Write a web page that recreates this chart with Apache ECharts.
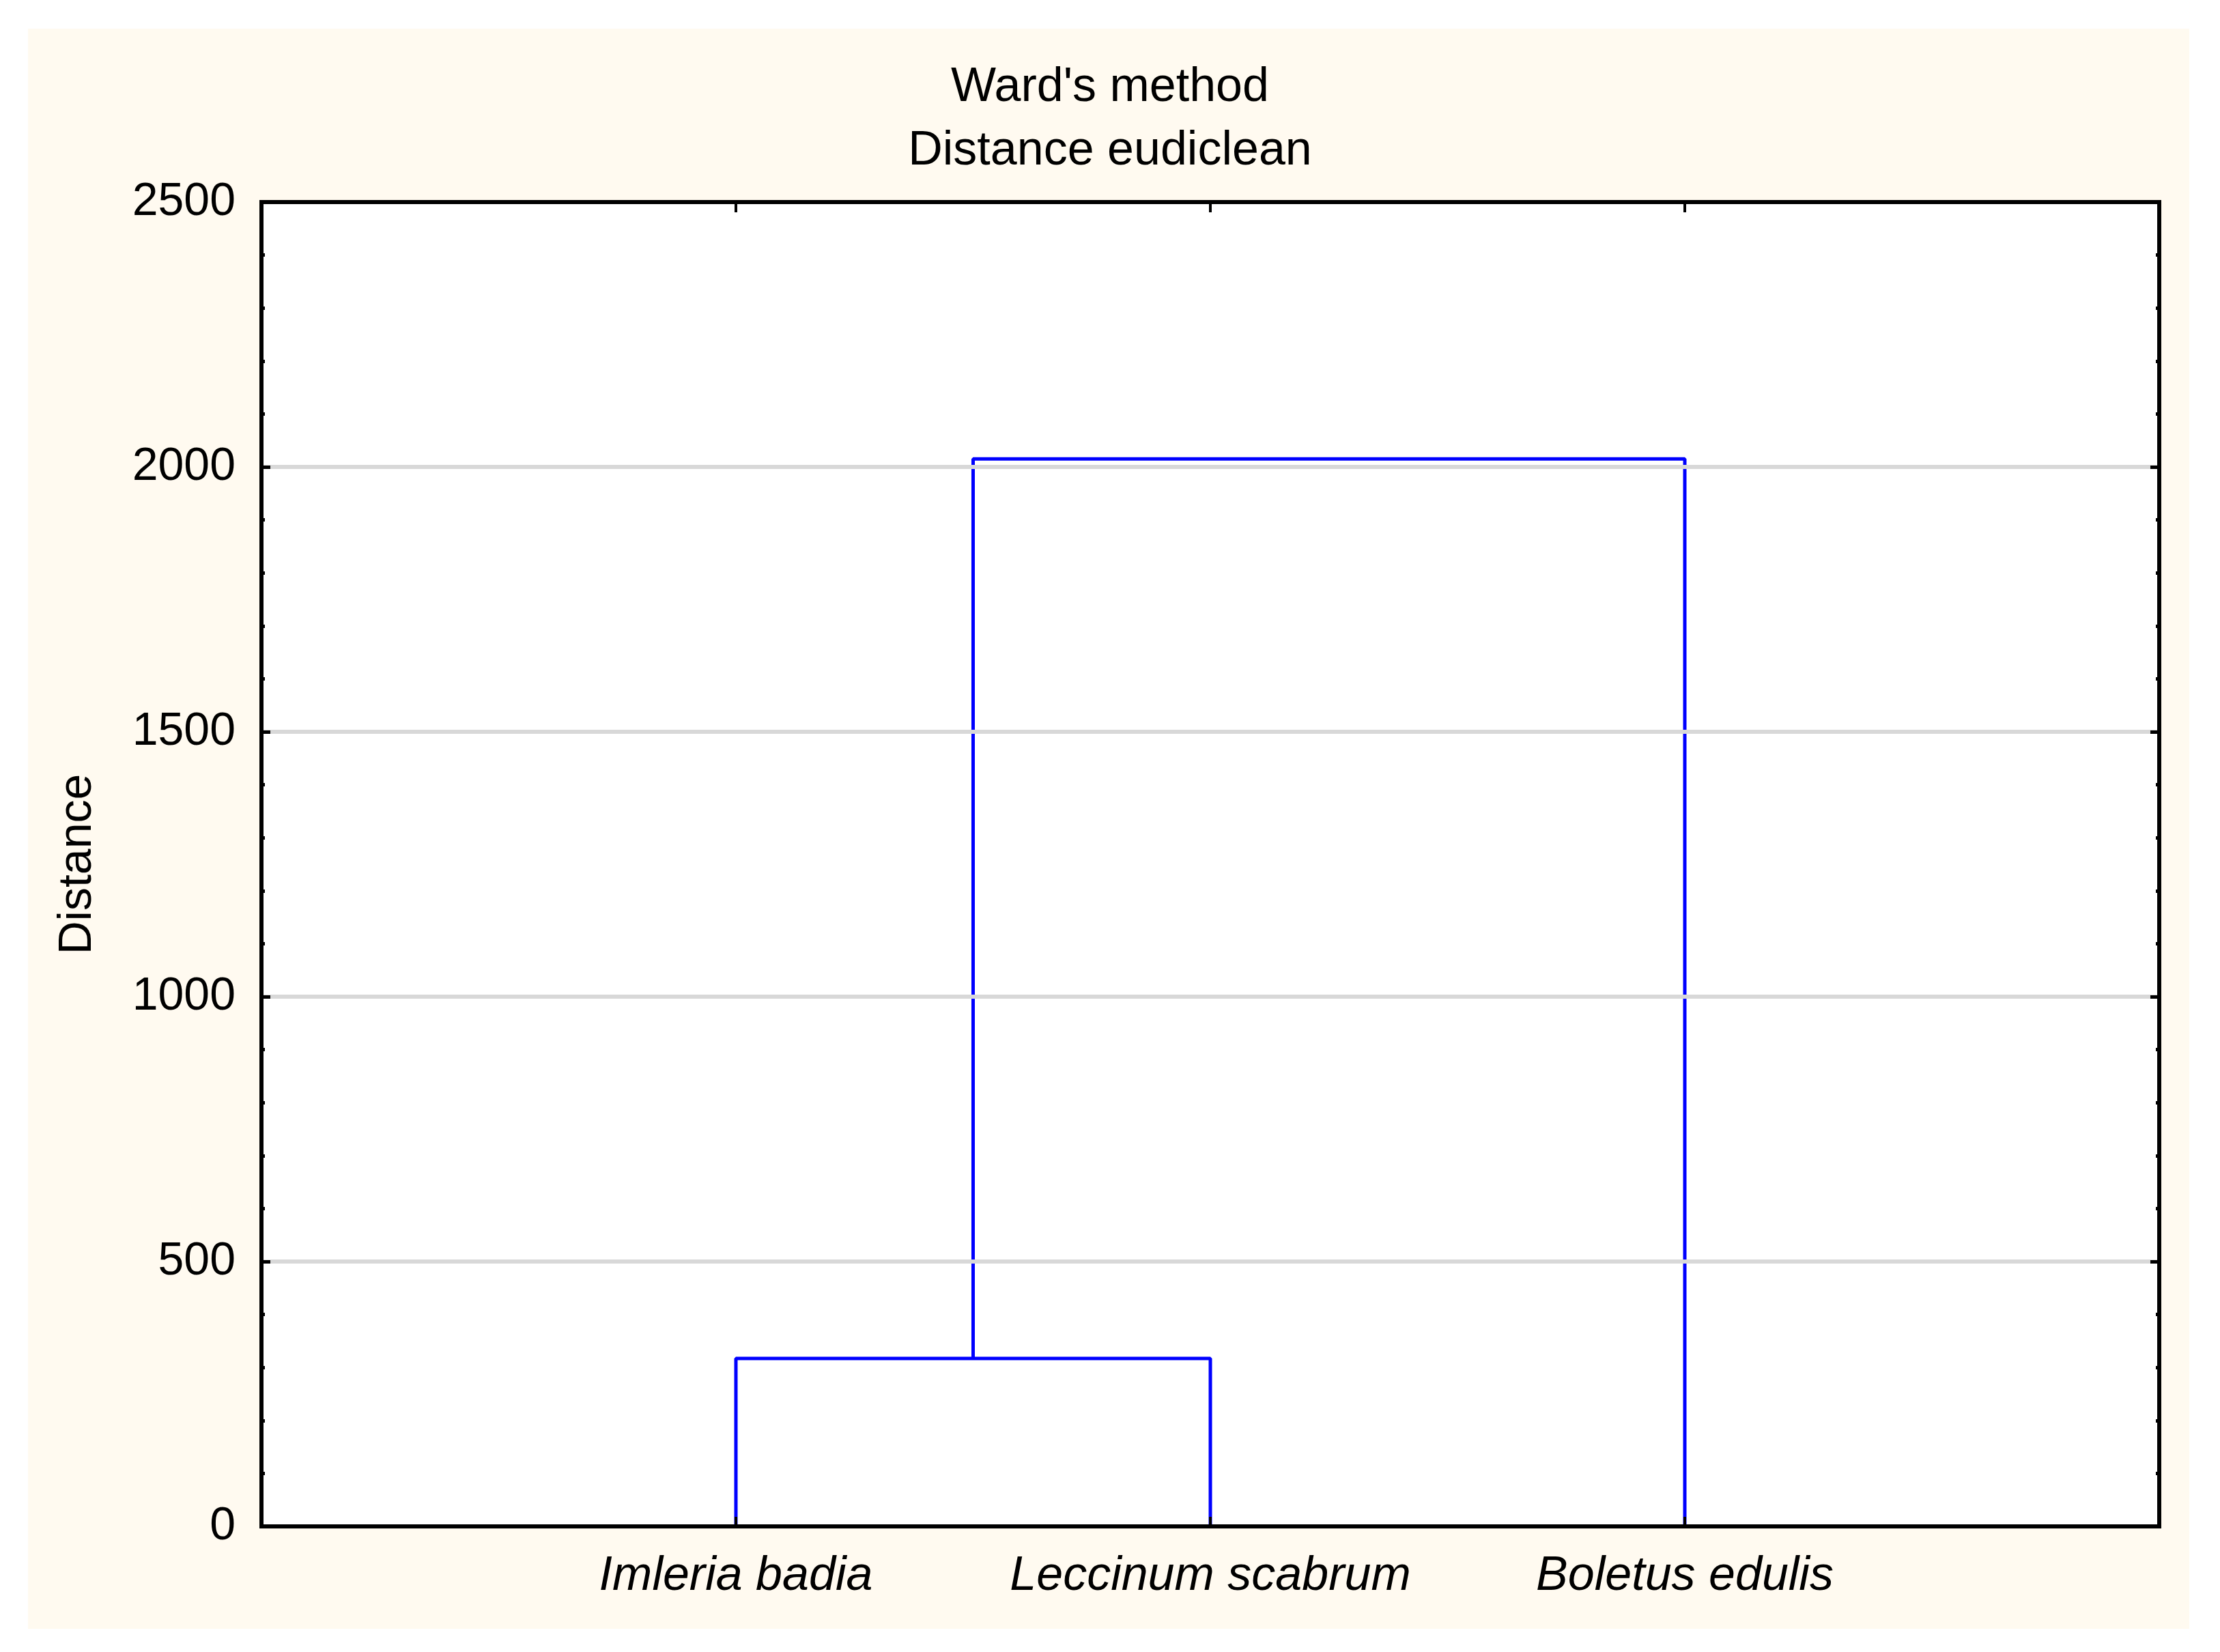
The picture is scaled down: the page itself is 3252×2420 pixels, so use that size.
<!DOCTYPE html>
<html>
<head>
<meta charset="utf-8">
<script src="https://cdn.jsdelivr.net/npm/echarts@6/dist/echarts.min.js"></script>
<style>
  html, body { margin: 0; padding: 0; background: #fff; }
  #chart { width: 3252px; height: 2420px; }
</style>
</head>
<body>
<div id="chart"></div>
<script>
// leaves of the dendrogram, left to right
var leaves = ['Imleria badia', 'Leccinum scabrum', 'Boletus edulis'];
// merges: ids 0..2 are leaves, id 3 is the first merge
var mergePairs = [[0, 1], [3, 2]];
var mergeHeights = [317, 2015];
var yTicks = [0, 500, 1000, 1500, 2000, 2500];

var font = "'Liberation Sans', Arial, sans-serif";

// place nodes: leaf i at x = i + 1, a merge at the mean of its children
var nodeX = leaves.map(function (l, i) { return i + 1; });
var nodeY = leaves.map(function () { return 0; });
var series = [];
mergePairs.forEach(function (p, k) {
    var a = p[0], b = p[1], h = mergeHeights[k];
    series.push({
        type: 'line',
        symbol: 'none',
        silent: true,
        lineStyle: { color: '#0000ff', width: 5 },
        data: [[nodeX[a], nodeY[a]], [nodeX[a], h], [nodeX[b], h], [nodeX[b], nodeY[b]]]
    });
    nodeX.push((nodeX[a] + nodeX[b]) / 2);
    nodeY.push(h);
});

var baseX = {
    type: 'value',
    min: 0,
    max: leaves.length + 1,
    interval: 1,
    z: 5,
    axisLine: { show: true, onZero: false, lineStyle: { color: '#000', width: 6 } },
    axisTick: { show: true, inside: true, length: 14, lineStyle: { color: '#000', width: 4 } },
    splitLine: { show: false }
};
var baseY = {
    type: 'value',
    min: yTicks[0],
    max: yTicks[yTicks.length - 1],
    interval: yTicks[1] - yTicks[0],
    z: 5,
    axisLine: { show: true, onZero: false, lineStyle: { color: '#000', width: 6 } },
    axisTick: { show: true, inside: true, length: 13, lineStyle: { color: '#000', width: 5 } },
    minorTick: { show: true, splitNumber: 5, length: 5, lineStyle: { color: '#000', width: 5 } }
};

var chart = echarts.init(document.getElementById('chart'));
chart.setOption({
    backgroundColor: '#ffffff',
    animation: false,
    graphic: [{
        type: 'rect',
        z: -10,
        silent: true,
        shape: { x: 41, y: 42, width: 3166, height: 2344 },
        style: { fill: '#fffaf0' }
    }],
    title: {
        text: "Ward's method\nDistance eudiclean",
        left: 'center',
        top: 77,
        textStyle: { fontFamily: font, fontSize: 70, fontWeight: 'normal', color: '#000', lineHeight: 93 }
    },
    grid: {
        left: 383, right: 89, top: 296, bottom: 184,
        show: true,
        backgroundColor: '#ffffff',
        borderColor: '#000',
        borderWidth: 6
    },
    xAxis: [
        Object.assign({}, baseX, {
            position: 'bottom',
            axisLabel: {
                margin: 39,
                fontFamily: font, fontSize: 70, fontStyle: 'italic', color: '#000',
                formatter: function (v) { return leaves[v - 1] || ''; }
            }
        }),
        Object.assign({}, baseX, {
            position: 'top',
            axisTick: { show: true, inside: true, length: 15, lineStyle: { color: '#000', width: 4 } },
            axisLabel: { show: false }
        })
    ],
    yAxis: [
        Object.assign({}, baseY, {
            position: 'left',
            name: 'Distance',
            nameLocation: 'middle',
            nameRotate: 90,
            nameGap: 235,
            nameTextStyle: { fontFamily: font, fontSize: 68, color: '#000' },
            axisLabel: {
                margin: 38, fontFamily: font, fontSize: 68, color: '#000',
                formatter: function (v) { return String(v); }
            },
            splitLine: { show: true, lineStyle: { color: '#d8d8d8', width: 6 } }
        }),
        Object.assign({}, baseY, {
            position: 'right',
            axisLabel: { show: false },
            splitLine: { show: false }
        })
    ],
    series: series
});
</script>
</body>
</html>
